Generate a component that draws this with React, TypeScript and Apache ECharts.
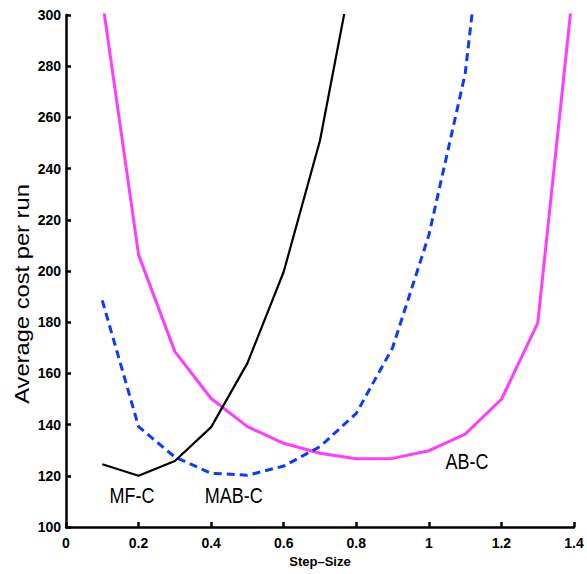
import React, { useEffect, useRef } from "react";
import * as echarts from "echarts";

const stepSizes = [0.1, 0.2, 0.3, 0.4, 0.5, 0.6, 0.7, 0.8, 0.9, 1.0, 1.1, 1.2, 1.3, 1.4];
const mfcValues = [124.5, 120, 125.8, 139, 164, 199.7, 251, 325];
const mabcValues = [188.5, 139.2, 127.3, 121, 120.2, 123.8, 131.4, 144.4, 170, 214, 277, 400];
const abcValues = [306, 206.3, 168.5, 150.2, 139.2, 132.7, 128.8, 126.7, 126.8, 129.8, 136.3, 149.9, 179.6, 313.7];

const seriesLabels = [
  { text: "MF-C", x: 0.182, y: 112.2 },
  { text: "MAB-C", x: 0.462, y: 112.2 },
  { text: "AB-C", x: 1.105, y: 125.7 },
];

const FONT = "'Liberation Sans', Arial, Helvetica, sans-serif";

function pairs(vals: number[]) {
  return vals.map((v, i) => [stepSizes[i], v]);
}

export default function App() {
  const ref = useRef<HTMLDivElement>(null);
  useEffect(() => {
    if (!ref.current) return;
    const chart = echarts.init(ref.current, null, { renderer: "svg" });
    const axisCommon = {
      axisLine: { show: true, lineStyle: { color: "#000", width: 2.5 } },
      axisTick: { show: true, inside: true, length: 5, lineStyle: { color: "#000", width: 2.5 } },
      splitLine: { show: false },
    };
    chart.setOption({
      animation: false,
      backgroundColor: "#fff",
      grid: { left: 66, right: 13, top: 15, bottom: 47, containLabel: false },
      xAxis: {
        type: "value",
        min: 0,
        max: 1.4,
        interval: 0.2,
        ...axisCommon,
        axisLabel: { color: "#000", fontWeight: "bold", fontSize: 14, fontFamily: FONT, margin: 9 },
        name: "Step\u2013Size",
        nameLocation: "middle",
        nameGap: 28,
        nameTextStyle: { color: "#000", fontWeight: "bold", fontSize: 13, fontFamily: FONT },
      },
      yAxis: {
        type: "value",
        min: 100,
        max: 300,
        interval: 20,
        ...axisCommon,
        axisLabel: { color: "#000", fontWeight: "bold", fontSize: 14, fontFamily: FONT, margin: 5 },
      },
      series: [
        {
          name: "AB-C",
          type: "line",
          data: pairs(abcValues),
          symbol: "none",
          clip: true,
          lineStyle: { color: "#ff3dff", width: 3 },
        },
        {
          name: "MAB-C",
          type: "line",
          data: pairs(mabcValues),
          symbol: "none",
          clip: true,
          lineStyle: { color: "#0a3cff", width: 3, type: [8, 5] },
        },
        {
          name: "MF-C",
          type: "line",
          data: pairs(mfcValues),
          symbol: "none",
          clip: true,
          lineStyle: { color: "#000", width: 2.2 },
        },
      ],
    });
    const labelGraphics = seriesLabels.map((l) => {
      const p = chart.convertToPixel({ gridIndex: 0 }, [l.x, l.y]) as number[];
      return {
        type: "text",
        x: p[0],
        y: p[1],
        scaleX: 1,
        scaleY: 1.2,
        style: {
          text: l.text,
          fontSize: 18,
          fontFamily: FONT,
          fill: "#000",
          align: "center",
          verticalAlign: "middle",
        },
      };
    });
    chart.setOption({
      graphic: [
        ...labelGraphics,
        {
          type: "text",
          x: 22,
          y: 294,
          rotation: Math.PI / 2,
          scaleX: 1.13,
          scaleY: 1,
          style: {
            text: "Average cost per run",
            fontSize: 21,
            fontFamily: FONT,
            fill: "#000",
            align: "center",
            verticalAlign: "middle",
          },
        },
      ],
    });
    return () => chart.dispose();
  }, []);
  return (
    <div
      ref={ref}
      style={{ position: "fixed", left: 0, top: 0, width: 587, height: 574, background: "#fff" }}
    />
  );
}
